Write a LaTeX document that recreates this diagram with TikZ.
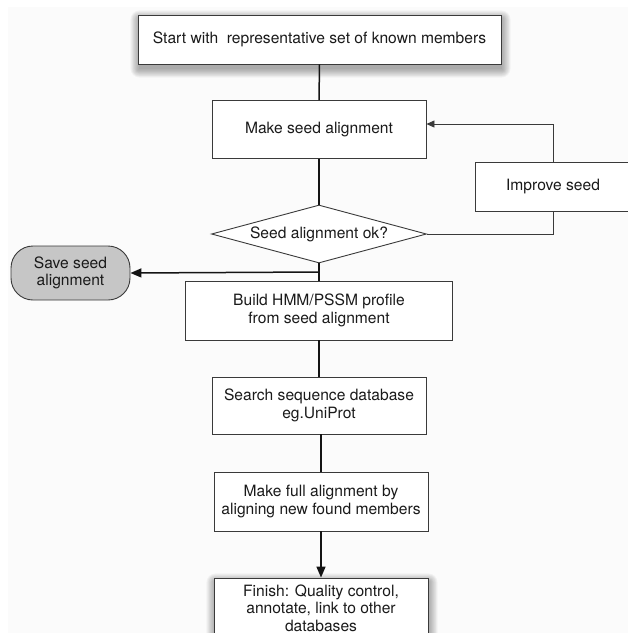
\documentclass[tikz,border=0pt]{standalone}
\usepackage{fontspec}
\setmainfont{TeX Gyre Heros}
\usetikzlibrary{shapes.geometric,arrows.meta,calc,backgrounds}
\definecolor{bg}{HTML}{FBFBFB}
\definecolor{edgec}{HTML}{3A3A3A}
\definecolor{savefill}{HTML}{C6C6C6}
\definecolor{txt}{HTML}{1A1A1A}
\begin{document}
\begin{tikzpicture}[x=1pt,y=-1pt,
  every node/.style={font=\fontsize{15.6}{17.3}\selectfont, text=txt, align=center, inner sep=0pt},
  procbox/.style={rectangle, draw=edgec, line width=0.9pt, fill=white},
  decision/.style={diamond, draw=edgec, line width=0.9pt, fill=white, aspect=3.7},
  terminal/.style={rectangle, rounded corners=22pt, draw=edgec, line width=0.9pt, fill=savefill},
  flow/.style={draw=black!92, line width=1.5pt},
  loopline/.style={draw=edgec, line width=0.8pt},
  bigtip/.style={-{Triangle[length=11pt,width=9pt]}},
  smalltip/.style={-{Triangle[length=8pt,width=7pt]}},
  softshadow/.style={fill=black, opacity=0.035}]
\useasboundingbox (0,0) rectangle (628,633);
\clip (0,0) rectangle (628,633);

\node[procbox, minimum width=363pt, minimum height=49pt] (start) at (319.5,39.5) {Start with\ \ representative set of known members};
\node[procbox, minimum width=214pt, minimum height=58pt] (mseed) at (319,129.5) {Make seed alignment};
\node[procbox, minimum width=156pt, minimum height=49pt] (improve) at (553,186.5) {Improve seed};
\node[decision, minimum width=215pt, minimum height=58pt] (dia) at (319,234) {Seed alignment ok?};
\node[terminal, minimum width=119pt, minimum height=54pt] (save) at (70.5,273) {Save seed\\alignment};
\node[procbox, minimum width=267pt, minimum height=59pt] (build) at (319,310.5) {Build HMM/PSSM profile\\from seed alignment};
\node[procbox, minimum width=214pt, minimum height=57pt] (search) at (319,405.5) {Search sequence database\\eg.UniProt};
\node[procbox, minimum width=214pt, minimum height=59pt] (full) at (321,501.5) {Make full alignment by\\aligning new found members};
\node[procbox, minimum width=214pt, minimum height=60pt] (finish) at (321,608) {Finish: Quality control,\\annotate, link to other\\databases};

\begin{scope}[on background layer]
  \fill[white] (0,0) rectangle (628,633);
  \fill[bg] (8,7) rectangle (628,633);
  \foreach \e in {0,1,...,9} {
    \fill[softshadow, rounded corners=\e pt]
      ($(start.north west)+(1-\e*0.9,4-\e*0.9)$) rectangle ($(start.south east)+(1+\e*0.9,5+\e*0.9)$);
    \fill[softshadow, rounded corners=\e pt]
      ($(finish.north west)+(1-\e*0.9,4-\e*0.9)$) rectangle ($(finish.south east)+(1+\e*0.9,5+\e*0.9)$);
  }
\end{scope}

\coordinate (split) at ($(dia.south)!0.5!(build.north)$);

\draw[flow] (start.south) -- (mseed.north);
\draw[flow] (mseed.south) -- (dia.north);
\draw[flow] (dia.south) -- (build.north);
\draw[flow, bigtip] (split) -- (save.east);
\draw[flow] (build.south) -- (build.south |- search.north);
\draw[flow] (full.north) -- (full.north |- search.south);
\draw[flow, bigtip] (full.south) -- (finish.north);
\draw[loopline, smalltip] (improve.north) |- ([yshift=5.5pt]mseed.east);
\draw[loopline] (dia.east) -| (improve.south);
\end{tikzpicture}
\end{document}
